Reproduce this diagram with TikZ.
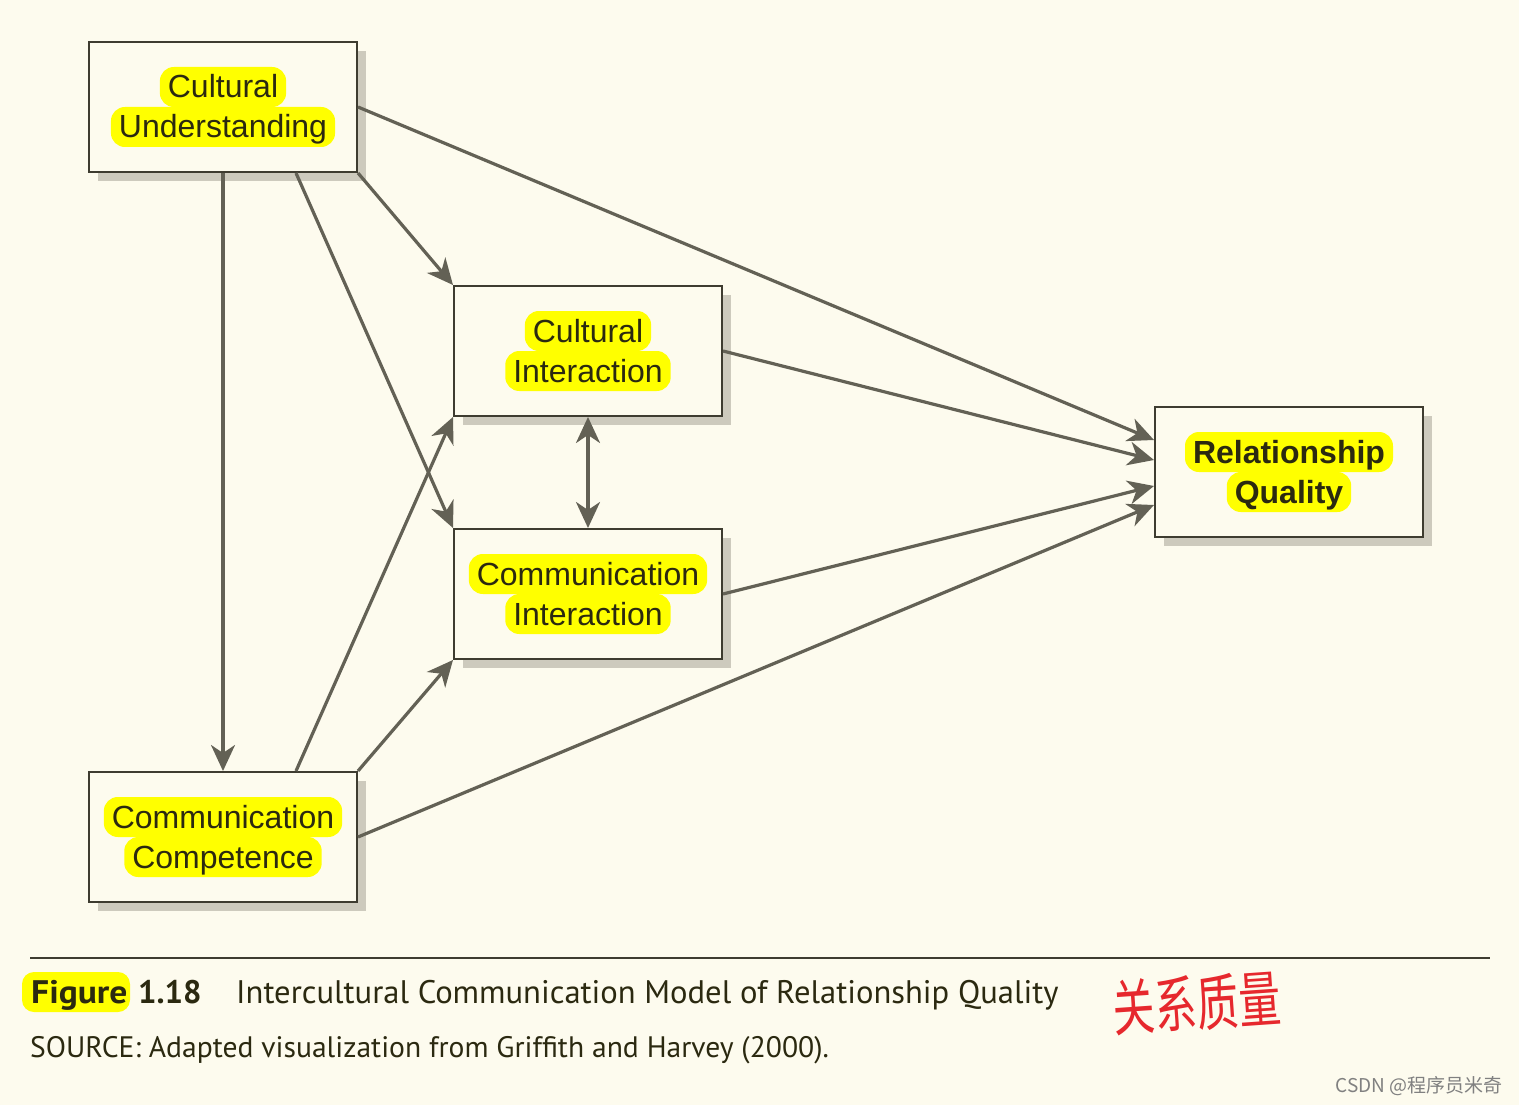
\documentclass[tikz,border=0pt]{standalone}
\usepackage{fontspec}
\setmainfont{Liberation Sans}
\newfontfamily\capfont{PT Sans}
\newfontfamily\cjk{Noto Sans CJK SC}
\usetikzlibrary{arrows.meta,calc,shadows}
\definecolor{bg}{RGB}{253,251,238}
\definecolor{shadowgrey}{RGB}{205,202,189}
\definecolor{boxline}{RGB}{62,60,48}
\definecolor{linec}{RGB}{99,97,85}
\definecolor{hly}{RGB}{255,255,0}
\definecolor{txt}{RGB}{43,41,16}
\definecolor{sig}{RGB}{230,40,45}
\begin{document}
\begin{tikzpicture}[x=1pt,y=-1pt,
  box/.style={draw=boxline, line width=2pt, fill=bg, minimum width=268pt, minimum height=130pt, inner sep=0pt,
    general shadow={shadow xshift=9pt, shadow yshift=-9pt, fill=shadowgrey}},
  hl/.style={fill=hly, rounded corners=14pt, inner xsep=8pt, inner ysep=5pt, text height=26pt, text depth=4pt,
    font=\fontsize{32}{36}\selectfont, text=txt},
  hlb/.style={hl, font=\fontsize{32}{36}\selectfont\bfseries},
  conn/.style={draw=linec, line width=3.2pt, -{Stealth[length=26pt,width=24pt,inset=8pt]}},
  both/.style={draw=linec, line width=3.2pt, {Stealth[length=26pt,width=24pt,inset=8pt]}-{Stealth[length=26pt,width=24pt,inset=8pt]}},
  captext/.style={anchor=base west, inner sep=0pt, text=txt, font=\capfont\fontsize{32.6}{38}\selectfont},
  capbold/.style={captext, font=\capfont\fontsize{32.6}{38}\selectfont\bfseries},
]
\useasboundingbox[fill=bg] (0,0) rectangle (1519,1105);

% boxes
\node[box] (cu) at (223,107) {};
\node[box] (ci) at (588,351) {};
\node[box] (cm) at (588,594) {};
\node[box] (cc) at (223,837) {};
\node[box] (rq) at (1289,472) {};

% labels
\node[hl] (cu1) at ($(cu)+(0,-20)$) {Cultural};
\node[hl] (cu2) at ($(cu)+(0,20)$) {Understanding};
\node[hl] (ci1) at ($(ci)+(0,-20)$) {Cultural};
\node[hl] (ci2) at ($(ci)+(0,20)$) {Interaction};
\node[hl] (cm1) at ($(cm)+(0,-20)$) {Communication};
\node[hl] (cm2) at ($(cm)+(0,20)$) {Interaction};
\node[hl] (cc1) at ($(cc)+(0,-20)$) {Communication};
\node[hl] (cc2) at ($(cc)+(0,20)$) {Competence};
\node[hlb] (rq1) at ($(rq)+(0,-20)$) {Relationship};
\node[hlb] (rq2) at ($(rq)+(0,20)$) {Quality};

% connectors
\draw[conn] (cu.south) -- (cc.north);
\draw[conn] ($(cu.south)+(73,0)$) -- (cm.north west);
\draw[conn] (cu.south east) -- (ci.north west);
\draw[conn] (cu.east) -- ($(rq.west)+(0,-32)$);
\draw[conn] (ci.east) -- ($(rq.west)+(0,-12)$);
\draw[both] (ci.south) -- (cm.north);
\draw[conn] (cm.east) -- ($(rq.west)+(0,14)$);
\draw[conn] ($(cc.north)+(73,0)$) -- (ci.south west);
\draw[conn] (cc.north east) -- (cm.south west);
\draw[conn] (cc.east) -- ($(rq.west)+(0,33)$);

% caption
\coordinate (r1) at (30,958);
\coordinate (r2) at (1490,958);
\draw[boxline, line width=2pt] (r1) -- (r2);
\node[fill=hly, rounded corners=12pt, minimum width=108pt, minimum height=40pt, inner sep=0pt] (fhl) at (76,992) {};
\node[capbold] (fig) at (31,1003) {\addfontfeature{FakeStretch=1.09}Figure};
\node[capbold] (num) at (138,1003) {1.18};
\node[captext] (title) at (236,1003) {Intercultural Communication Model of Relationship Quality};
\node[captext, font=\capfont\fontsize{29.6}{35}\selectfont] (src) at (30,1057) {SOURCE: Adapted visualization from Griffith and Harvey (2000).};

% handwritten note and watermark
\node[text=sig, font=\cjk\fontsize{42}{42}\selectfont, rotate=4, yscale=1.45, transform shape, inner sep=0pt] (sign) at (1197,1003) {关系质量};
\node[anchor=east, text=gray, font=\cjk\fontsize{19}{19}\selectfont, inner sep=0pt] (wm) at (1503,1086) {CSDN @程序员米奇};
\end{tikzpicture}
\end{document}
